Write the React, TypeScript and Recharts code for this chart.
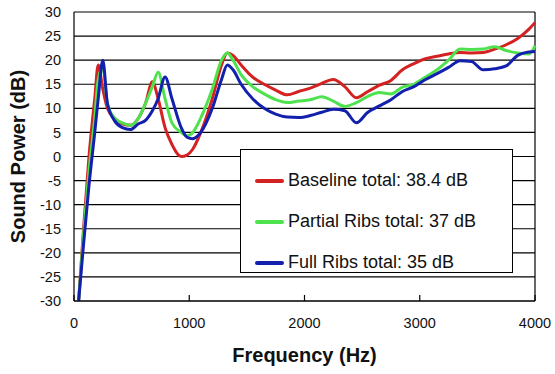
import {
  CartesianGrid,
  Legend,
  Line,
  LineChart,
  ReferenceLine,
  XAxis,
  YAxis,
} from 'recharts'

// Frequency grid (Hz) shared by the three curves.
const freqs = [
  40, 80, 130, 180, 210, 250, 290, 350, 420, 490, 560, 620, 680, 730, 790, 850,
  930, 980, 1030, 1100, 1200, 1280, 1330, 1380, 1450, 1550, 1650, 1750, 1850,
  1950, 2050, 2150, 2250, 2350, 2450, 2550, 2650, 2750, 2850, 2950, 3050, 3150,
  3250, 3350, 3450, 3550, 3650, 3750, 3850, 3950, 4000,
]

const baseline = [
  -30, -16, 0, 12, 19, 14, 10, 8, 6.8, 6.5, 8, 11, 15.5, 12, 6, 2.5, 0, 0.3,
  1.5, 5, 12, 19, 21.5, 21, 19, 16.5, 15, 13.8, 12.8, 13.5, 14.2, 15.2, 16,
  14.5, 12.2, 13.5, 14.8, 15.8, 18, 19.3, 20.3, 20.8, 21.3, 21.6, 21.5, 21.6,
  22.3, 23.2, 24.5, 26.5, 27.8,
]

const partialRibs = [
  -30, -17, -3, 8, 16, 18.5, 11, 8, 7, 6.5, 8, 11, 14.5, 17.5, 12, 7, 5, 4.3,
  5, 8, 14, 20, 21.5, 20, 17, 14.5, 13, 11.8, 11.2, 11.5, 11.8, 12.4, 11.5,
  10.4, 11.2, 12.5, 13.3, 13, 14.4, 15, 16.5, 18, 20, 22.3, 22.2, 22.3, 22.8,
  22, 21.5, 21.3, 23,
]

const fullRibs = [
  -30, -19, -6, 5, 12, 20, 11, 7.5, 6, 5.6, 6.8, 7.5, 9.5, 12, 16.5, 12, 6, 4,
  3.7, 5, 10, 16, 19, 18, 15, 12, 10, 8.8, 8.2, 8.1, 8.5, 9.2, 9.8, 9.5, 7,
  9.2, 10.5, 11.8, 13.5, 14.5, 16, 17.2, 18.5, 19.9, 19.7, 18, 18.2, 18.8, 21,
  21.7, 21.8,
]

const yTicks = [-30, -25, -20, -15, -10, -5, 0, 5, 10, 15, 20, 25, 30]
const xTicks = [0, 1000, 2000, 3000, 4000]

const series = [
  { key: 'baseline', name: 'Baseline total: 38.4 dB', color: '#d42121' },
  { key: 'partial', name: 'Partial Ribs total: 37 dB', color: '#4fe24f' },
  { key: 'full', name: 'Full Ribs total: 35 dB', color: '#1320ad' },
]

const data = freqs.map((f, i) => ({
  freq: f,
  baseline: baseline[i],
  partial: partialRibs[i],
  full: fullRibs[i],
}))

const FONT = '"Liberation Sans", Arial, sans-serif'

// Legend keeps the series order (Recharts would sort by name otherwise).
function LegendBox({ payload }: { payload?: any[] }) {
  const items = [...(payload ?? [])].sort(
    (a, b) =>
      series.findIndex((s) => s.key === a.dataKey) -
      series.findIndex((s) => s.key === b.dataKey),
  )
  return (
    <div
      style={{
        boxSizing: 'border-box',
        width: 273,
        height: 124,
        border: '1.5px solid #000',
        background: '#fff',
        padding: '10px 0 0 14px',
        fontFamily: FONT,
        fontSize: 18,
        color: '#111',
      }}
    >
      {items.map((p) => (
        <div
          key={p.value}
          style={{ display: 'flex', alignItems: 'center', height: 41 }}
        >
          <span
            style={{
              width: 29,
              height: 4,
              background: p.color,
              marginRight: 4,
              borderRadius: 2,
            }}
          />
          {p.value}
        </div>
      ))}
    </div>
  )
}

function YTitle(props: any) {
  const { viewBox } = props
  const cx = 18
  const cy = viewBox.y + viewBox.height / 2
  return (
    <text
      x={cx}
      y={cy}
      transform={`rotate(-90 ${cx} ${cy})`}
      textAnchor="middle"
      dominantBaseline="central"
      fontFamily={FONT}
      fontWeight="bold"
      fontSize={20}
      fill="#111"
    >
      Sound Power (dB)
    </text>
  )
}

function XTitle(props: any) {
  const { viewBox } = props
  const cx = viewBox.x + viewBox.width / 2
  return (
    <text
      x={cx}
      y={355}
      textAnchor="middle"
      dominantBaseline="central"
      fontFamily={FONT}
      fontWeight="bold"
      fontSize={20}
      fill="#111"
    >
      Frequency (Hz)
    </text>
  )
}

export default function App() {
  return (
    <div style={{ position: 'absolute', left: 0, top: 0, background: '#fff' }}>
      <LineChart
        width={555}
        height={374}
        data={data}
        margin={{ top: 12, right: 20, bottom: 0, left: 0 }}
      >
        <CartesianGrid vertical={false} stroke="#000" strokeWidth={1.2} />
        <XAxis
          dataKey="freq"
          type="number"
          domain={[0, 4000]}
          ticks={xTicks}
          height={73}
          tickSize={-6}
          tickMargin={23}
          tickLine={{ stroke: '#000', strokeWidth: 1.2 }}
          axisLine={{ stroke: '#000', strokeWidth: 1.2 }}
          tick={{ fontSize: 14.5, fill: '#111', fontFamily: FONT }}
          label={{ content: XTitle }}
        />
        <YAxis
          type="number"
          domain={[-30, 30]}
          ticks={yTicks}
          width={74}
          tickSize={0}
          tickMargin={13}
          tickLine={false}
          axisLine={{ stroke: '#000', strokeWidth: 1.2 }}
          tick={{ fontSize: 14.5, fill: '#111', fontFamily: FONT }}
          label={{ content: YTitle }}
        />
        <ReferenceLine x={4000} stroke="#000" strokeWidth={1.2} />
        {series.map((s) => (
          <Line
            key={s.key}
            type="monotone"
            dataKey={s.key}
            name={s.name}
            stroke={s.color}
            strokeWidth={3}
            dot={false}
            isAnimationActive={false}
          />
        ))}
        <Legend
          layout="vertical"
          align="center"
          verticalAlign="middle"
          content={<LegendBox />}
          wrapperStyle={{ left: 240, top: 149, width: 273, height: 124 }}
        />
      </LineChart>
    </div>
  )
}
